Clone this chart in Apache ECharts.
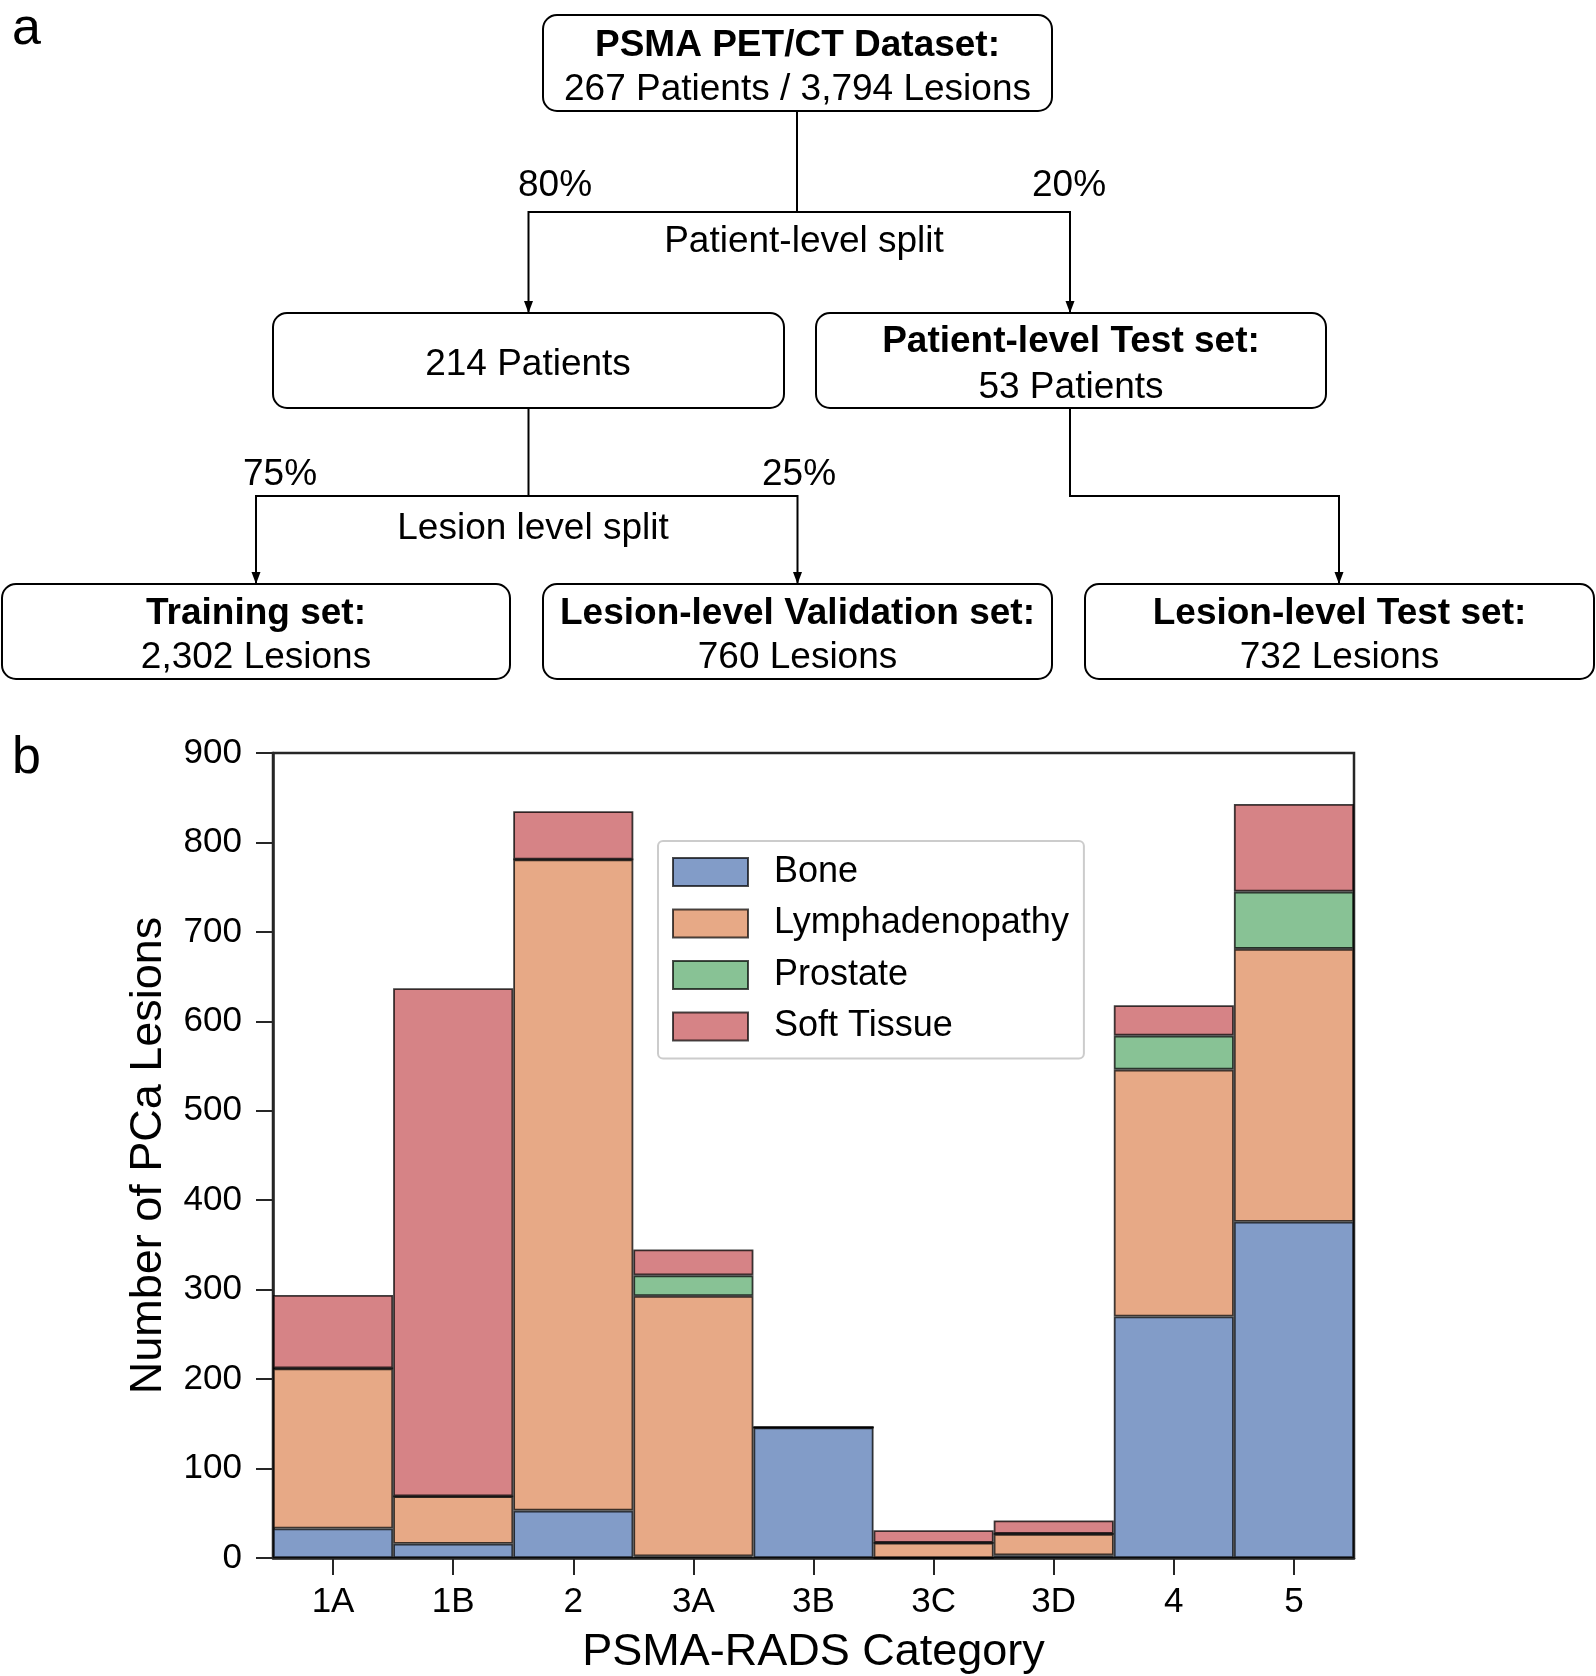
<!DOCTYPE html>
<html>
<head>
<meta charset="utf-8">
<script src="https://cdn.jsdelivr.net/npm/echarts@6/dist/echarts.min.js"></script>
<style>
html,body{margin:0;padding:0;background:#fff;}
#c{width:1596px;height:1676px;}
</style>
</head>
<body>
<div id="c"></div>
<script>
// ---- data ----
const categories = ['1A', '1B', '2', '3A', '3B', '3C', '3D', '4', '5'];
const bone       = [33, 16, 53, 2, 146, 0, 3, 270, 376];
const lymph      = [179, 53, 728, 291, 0, 17, 24, 276, 305];
const prostate   = [0, 0, 0, 23, 0, 0, 0, 38, 64];
const softTissue = [82, 568, 54, 29, 0, 14, 15, 34, 98];
const seriesNames = ['Bone', 'Lymphadenopathy', 'Prostate', 'Soft Tissue'];
const yTicks = [0, 100, 200, 300, 400, 500, 600, 700, 800, 900];

const colors = ['#829cc8', '#e7a986', '#88c295', '#d68386'];
const FONT = '"Liberation Sans", Arial, Helvetica, sans-serif';

const chart = echarts.init(document.getElementById('c'), null, {renderer: 'canvas'});

function mkSeries(name, data, i) {
  return {
    name: name, type: 'bar', stack: 'total', data: data,
    barCategoryGap: '0%',
    itemStyle: {color: colors[i], borderColor: 'rgba(0,0,0,0.75)', borderWidth: 1.8},
    emphasis: {disabled: true}
  };
}

// ---- flowchart (graphic) ----
const g = [];
function box(x1, y1, x2, y2) {
  g.push({type: 'rect', shape: {x: x1, y: y1, width: x2 - x1, height: y2 - y1, r: 14},
          style: {fill: '#fff', stroke: '#000', lineWidth: 2}, z: 10});
}
function txt(x, y, s, bold, size) {
  g.push({type: 'text', x: x, y: y + 2, z: 11,
          style: {text: s, x: 0, y: 0, align: 'center', verticalAlign: 'middle',
                  font: (bold ? 'bold ' : '') + (size || 37) + 'px ' + FONT, fill: '#000'}});
}
function line(pts) {
  g.push({type: 'polyline', shape: {points: pts}, style: {stroke: '#000', lineWidth: 2, fill: null}, z: 9});
}
function arrow(x, yTip) {
  g.push({type: 'polygon', shape: {points: [[x - 4.5, yTip - 12], [x + 4.5, yTip - 12], [x, yTip]]},
          style: {fill: '#000'}, z: 9});
}
// boxes
box(543, 15, 1052, 111);
box(273, 313, 784, 408);
box(816, 313, 1326, 408);
box(2, 584, 510, 679);
box(543, 584, 1052, 679);
box(1085, 584, 1594, 679);
// connectors
line([[797, 111], [797, 212]]);
line([[528.5, 312], [528.5, 212], [1070, 212], [1070, 312]]);
arrow(528.5, 313); arrow(1070, 313);
line([[528.5, 408], [528.5, 496]]);
line([[256, 583], [256, 496], [797.5, 496], [797.5, 583]]);
arrow(256, 584); arrow(797.5, 584);
line([[1070, 408], [1070, 496], [1339, 496], [1339, 583]]);
arrow(1339, 584);
// texts
txt(797.5, 44, 'PSMA PET/CT Dataset:', true);
txt(797.5, 88, '267 Patients / 3,794 Lesions', false);
txt(555, 184, '80%', false);
txt(1069, 184, '20%', false);
txt(804, 240, 'Patient-level split', false);
txt(528, 363, '214 Patients', false);
txt(1071, 340, 'Patient-level Test set:', true);
txt(1071, 386, '53 Patients', false);
txt(280, 473, '75%', false);
txt(799, 473, '25%', false);
txt(533, 527, 'Lesion level split', false);
txt(256, 612, 'Training set:', true);
txt(256, 656, '2,302 Lesions', false);
txt(797.5, 612, 'Lesion-level Validation set:', true);
txt(797.5, 656, '760 Lesions', false);
txt(1339.5, 612, 'Lesion-level Test set:', true);
txt(1339.5, 656, '732 Lesions', false);
// panel labels
g.push({type: 'text', x: 12, y: 30, z: 11, style: {text: 'a', x: 0, y: 0, align: 'left', verticalAlign: 'middle', font: '52px ' + FONT, fill: '#000'}});
g.push({type: 'text', x: 12, y: 759, z: 11, style: {text: 'b', x: 0, y: 0, align: 'left', verticalAlign: 'middle', font: '52px ' + FONT, fill: '#000'}});

const option = {
  animation: false,
  backgroundColor: '#fff',
  textStyle: {fontFamily: FONT},
  grid: {left: 273, right: 242, top: 753, height: 806, show: true,
         borderColor: '#262626', borderWidth: 2.5, backgroundColor: 'transparent'},
  legend: {
    show: true, orient: 'vertical', left: 658, top: 841,
    data: seriesNames,
    icon: 'rect', itemWidth: 75, itemHeight: 28, itemGap: 15.5,
    padding: [13, 15, 14, 14],
    borderColor: '#cccccc', borderWidth: 2, borderRadius: 5, backgroundColor: '#fff',
    textStyle: {fontSize: 36, color: '#000', fontFamily: FONT, padding: [0, 0, 0, 21]},
    itemStyle: {borderColor: 'rgba(0,0,0,0.7)', borderWidth: 2},
    selectedMode: false
  },
  xAxis: {
    type: 'category', data: categories, boundaryGap: true,
    name: 'PSMA-RADS Category', nameLocation: 'middle', nameGap: 72,
    nameTextStyle: {fontSize: 45, color: '#000', fontFamily: FONT, verticalAlign: 'top'},
    axisLine: {show: true, lineStyle: {color: '#262626', width: 2.5}},
    axisTick: {show: true, alignWithLabel: true, length: 17, lineStyle: {color: '#262626', width: 2}},
    axisLabel: {fontSize: 35, color: '#000', margin: 27, fontFamily: FONT},
    splitLine: {show: false}
  },
  yAxis: {
    type: 'value', min: 0, max: 900, interval: 100,
    name: 'Number of PCa Lesions', nameLocation: 'middle', nameGap: 102,
    nameTextStyle: {fontSize: 45, color: '#000', fontFamily: FONT},
    axisLine: {show: true, lineStyle: {color: '#262626', width: 2.5}},
    axisTick: {show: true, length: 17, lineStyle: {color: '#262626', width: 2}},
    axisLabel: {fontSize: 35, color: '#000', margin: 31, fontFamily: FONT,
                formatter: function (v) { return yTicks.indexOf(v) >= 0 ? String(v) : ''; }},
    splitLine: {show: false}
  },
  series: [
    mkSeries(seriesNames[0], bone, 0),
    mkSeries(seriesNames[1], lymph, 1),
    mkSeries(seriesNames[2], prostate, 2),
    mkSeries(seriesNames[3], softTissue, 3)
  ],
  graphic: g
};
chart.setOption(option);
</script>
</body>
</html>
